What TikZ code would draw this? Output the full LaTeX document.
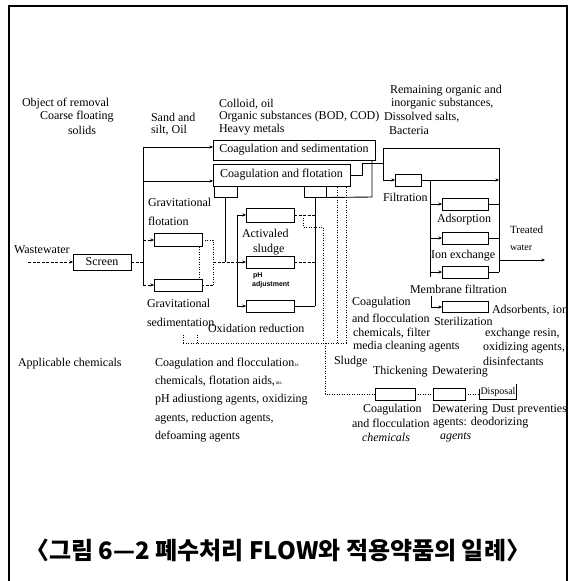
\documentclass[tikz,border=0pt]{standalone}
\usepackage{fontspec}
\setmainfont{Liberation Serif}
\newfontfamily\krfont{Noto Sans CJK KR}
\newfontfamily\phfont{Liberation Sans}
\usetikzlibrary{arrows.meta,calc}
\begin{document}
\begin{tikzpicture}[x=1pt,y=-1pt,
  txt/.style={font=\fontsize{12}{13}\selectfont, inner sep=0pt, outer sep=0pt, align=left, anchor=west},
  pbox/.style={draw, line width=0.9pt, inner sep=0pt, outer sep=0pt, font=\fontsize{12}{13}\selectfont},
  ln/.style={line width=0.9pt},
  dl/.style={line width=1pt, dash pattern=on 1pt off 1.5pt},
  dsh/.style={line width=0.9pt, dash pattern=on 3pt off 1.5pt},
  ar/.style={-{Stealth[length=3.5pt,width=3pt]}},
  tinyl/.style={font=\phfont\bfseries\fontsize{7}{7.5}\selectfont, inner sep=0pt, anchor=west}
]
\useasboundingbox (0,0) rectangle (578,581);
\fill[white] (0,0) rectangle (578,581);
\draw[line width=1.6pt] (9,581) -- (9,6) -- (567,6) -- (567,581);

% header texts
\node[txt] (obj) at (22,104) {Object of removal};
\node[txt] (coarse) at (40,117) {Coarse floating};
\node[txt] (solids) at (68,130) {solids};
\node[txt] (sand) at (151,117) {Sand and};
\node[txt] (silt) at (151,130) {silt, Oil};
\node[txt] (coll) at (219,104) {Colloid, oil};
\node[txt] (orgs) at (219,117) {Organic substances (BOD, COD)};
\node[txt] (heavy) at (219,130) {Heavy metals};
\node[txt] (rem) at (390,91) {Remaining organic and};
\node[txt] (inorg) at (391,104) {inorganic substances,};
\node[txt] (diss) at (384,117) {Dissolved salts,};
\node[txt] (bact) at (389,131) {Bacteria};

% boxes
\node[pbox, minimum width=58pt, minimum height=16pt] (scr) at (102,262) {Screen};
\node[pbox, minimum width=48pt, minimum height=13pt] (gf) at (178,240) {};
\node[pbox, minimum width=48pt, minimum height=12pt] (gs) at (178,285) {};
\node[pbox, minimum width=162pt, minimum height=20pt] (sed) at (294,150) {Coagulation and sedimentation};
\node[pbox, minimum width=137pt, minimum height=22pt] (flo) at (281.5,175) {Coagulation and flotation};
\node[pbox, minimum width=23pt, minimum height=11pt] (sr1) at (225.5,192) {};
\node[pbox, minimum width=22pt, minimum height=11pt] (sr2) at (315,192) {};
\node[pbox, minimum width=48pt, minimum height=14pt] (act) at (270,215) {};
\node[pbox, minimum width=48pt, minimum height=12pt] (ph) at (270,262) {};
\node[pbox, minimum width=48pt, minimum height=12pt] (oxi) at (270,306) {};
\node[pbox, minimum width=26pt, minimum height=12pt] (fil) at (408,180) {};
\node[pbox, minimum width=46pt, minimum height=12pt] (ads) at (465,204) {};
\node[pbox, minimum width=46pt, minimum height=12pt] (ion) at (465,238) {};
\node[pbox, minimum width=46pt, minimum height=12pt] (mem) at (465,272) {};
\node[pbox, minimum width=46pt, minimum height=11pt] (ste) at (465,307) {};
\node[pbox, minimum width=40pt, minimum height=12pt] (thk) at (395,394) {};
\node[pbox, minimum width=32pt, minimum height=12pt] (dew) at (449,394) {};
\node[font=\fontsize{10}{11}\selectfont, inner sep=1pt, minimum width=32pt, minimum height=15pt] (dis) at (498,392) {Disposal};
\draw[ln] ([yshift=-5pt]dis.north west) -- (dis.south west) -- (dis.south east) -- (dis.north east);

% labels
\node[txt] (wwl) at (14,250) {Wastewater};
\node[txt, font=\fontsize{12}{19}\selectfont] (gfl) at (148,212) {Gravitational\\flotation};
\node[txt, font=\fontsize{12}{19}\selectfont] (gsl) at (147,312.5) {Gravitational\\sedimentation};
\node[txt] (actl) at (242,233) {Activaled};
\node[txt, fill=white, inner sep=1pt] (sludl) at (252,250) {sludge};
\node[tinyl] (phl) at (253,276) {pH};
\node[tinyl] (adjl) at (252,285) {adjustment};
\node[txt] (oxil) at (208,328) {Oxidation reduction};
\node[txt] (fill) at (383,197) {Filtration};
\node[txt] (adsl) at (437,220) {Adsorption};
\node[txt] (ionl) at (431,256) {Ion exchange};
\node[txt] (meml) at (410,289) {Membrane filtration};
\node[txt] (stel) at (434,321) {Sterilization};
\node[txt, font=\fontsize{11}{12}\selectfont] (treat) at (510,230) {Treated};
\node[txt, font=\fontsize{10}{11}\selectfont] (water) at (510,248) {water};

\node[txt] (coagR) at (352,303) {Coagulation};
\node[txt] (flocR) at (352,318) {and flocculation};
\node[txt] (chemR) at (353,333) {chemicals, filter};
\node[txt] (mediaR) at (353,347) {media cleaning agents};
\node[txt] (adsb) at (492,310) {Adsorbents, ion};
\node[txt] (exch) at (485,334) {exchange resin,};
\node[txt] (oxid) at (483,348) {oxidizing agents,};
\node[txt] (disinf) at (483,361) {disinfectants};
\node[txt] (sludge) at (334,362) {Sludge};
\node[txt] (thkl) at (373,372) {Thickening};
\node[txt] (dewl) at (432,372) {Dewatering};
\node[txt] (coagB) at (363,410) {Coagulation};
\node[txt] (dewB) at (432,410) {Dewatering};
\node[txt] (dust) at (492,410) {Dust preventies};
\node[txt] (flocB) at (352,423) {and flocculation};
\node[txt] (agentsB) at (433,423) {agents: deodorizing};
\node[txt, font=\itshape\fontsize{12}{13}\selectfont] (chemB) at (362,437.5) {chemicals};
\node[txt, font=\itshape\fontsize{12}{13}\selectfont] (agB) at (440,437.5) {agents};

\node[txt] (appl) at (18,364) {Applicable chemicals};
\node[txt, font=\fontsize{12}{18.3}\selectfont] (chemL) at (155,400) {Coagulation and flocculation{\fontsize{5}{5}\selectfont\,ts.}\\chemicals, flotation aids,{\fontsize{5}{5}\selectfont\,nts.}\\pH adiustiong agents, oxidizing\\agents, reduction agents,\\defoaming agents};

\node[font=\krfont\bfseries\fontsize{24}{28}\selectfont, anchor=west, inner sep=0pt] (title) at (25,550) {〈그림 6—2 폐수처리 FLOW와 적용약품의 일례〉};

% coordinates
\coordinate (wwst) at (28,262);
\coordinate (bus1t) at (143,147);
\coordinate (fin) at (143,181);
\coordinate (bus1m) at (143,262);
\coordinate (bus1b) at (143,285);
\coordinate (gbr) at (213,262);
\coordinate (bio) at (237,262);
\coordinate (biot) at (237,215);
\coordinate (biob) at (237,306);
\coordinate (d1) at (303,215);
\coordinate (d2) at (323,227);
\coordinate (chl) at (183,343);
\coordinate (chl2) at (197,343);
\coordinate (chr) at (346,343);
\coordinate (ch3) at (337,343);
\coordinate (sl) at (325,343);
\coordinate (m1) at (362,163);
\coordinate (jn) at (383,163);
\coordinate (m2) at (372,197);
\coordinate (bt) at (383,148);
\coordinate (tr) at (499,148);
\coordinate (trb) at (499,272);
\coordinate (fb) at (430,180);
\coordinate (fbb) at (430,277);
\coordinate (st0) at (431,296);
\coordinate (tw1) at (499,260);
\coordinate (tw2) at (545,260);

% main inflow
\draw[dsh,ar] (wwst) -- (scr.west);
\draw[dsh] (scr.east) -- (bus1m);
\draw[ln] (bus1t) -- (bus1b);
\draw[ln,ar] (bus1t) -- (bus1t -| sed.west);
\draw[ln,ar] (fin) -- (fin -| flo.west);
\draw[dsh,ar] (bus1t |- gf.west) -- (gf.west);
\draw[dsh,ar] (bus1b) -- (gs.west);

% gravitational group
\draw[dl] (gf.east) -- (gf.east -| gbr) -- (gs.east -| gbr);
\draw[dsh] (gs.east -| gbr) -- (gs.east);
\draw[dl] ([xshift=-3pt]gf.south east) -- ([xshift=-3pt]gs.north east);
\draw[dsh] (gbr) -- (bio);
\draw[ln] (sr1.south) -- (sr1.south |- gbr);

% biological group
\draw[ln] (biot) -- (biob);
\draw[ln,ar] (biot) -- (act.west);
\draw[ln,ar] (bio) -- (ph.west);
\draw[ln,ar] (biob) -- (oxi.west);
\draw[ln] (sr2.south) -- (sr2.south |- oxi.east);
\draw[dsh] (act.east) -- (act.east -| sr2.south);
\draw[dsh] (ph.east) -- (ph.east -| sr2.south);
\draw[ln] (oxi.east) -- (oxi.east -| sr2.south);
\draw[dl] (d1) |- (d2) -- (d2 |- chl);

% chemical / sludge lines
\draw[dl] (chl) -- (chr);
\draw[dl] (chl) -- ++(0,-10);
\draw[dl] (chl2) -- ++(0,-10);
\draw[dl] (chr) -- (chr |- flo.south);
\draw[dl] (ch3) -- (ch3 |- flo.south);
\draw[dl] (sl) |- (thk.west);
\draw[dl] (thk.east) -- (dew.west);
\draw[dl] (dew.east) -- (dew.east -| dis.west);

% merge and advanced treatment
\draw[ln] (flo.east) -| (m1) -- (jn);
\draw[ln] (sr2.south east) -- (m2) -- (m2 |- sed.south);
\draw[ln] (jn) -- (bt) -- (tr);
\draw[ln,ar] (jn) |- (fil.west);
\draw[ln] (fil.east) -- (fb);
\draw[ln,ar] (fb) -- (fb -| tr);
\draw[ln] (fb) -- (fbb);
\draw[ln,ar] (fb |- ads.west) -- (ads.west);
\draw[ln,ar] (fb |- ion.west) -- (ion.west);
\draw[ln,ar] (fb |- mem.west) -- (mem.west);
\draw[ln] (ads.east) -- (ads.east -| tr);
\draw[ln] (ion.east) -- (ion.east -| tr);
\draw[ln] (mem.east) -- (mem.east -| tr);
\draw[ln] (tr) -- (trb);
\draw[ln,ar] (st0) |- (ste.west);
\draw[ln,ar] (tw1) -- (tw2);
\end{tikzpicture}
\end{document}
